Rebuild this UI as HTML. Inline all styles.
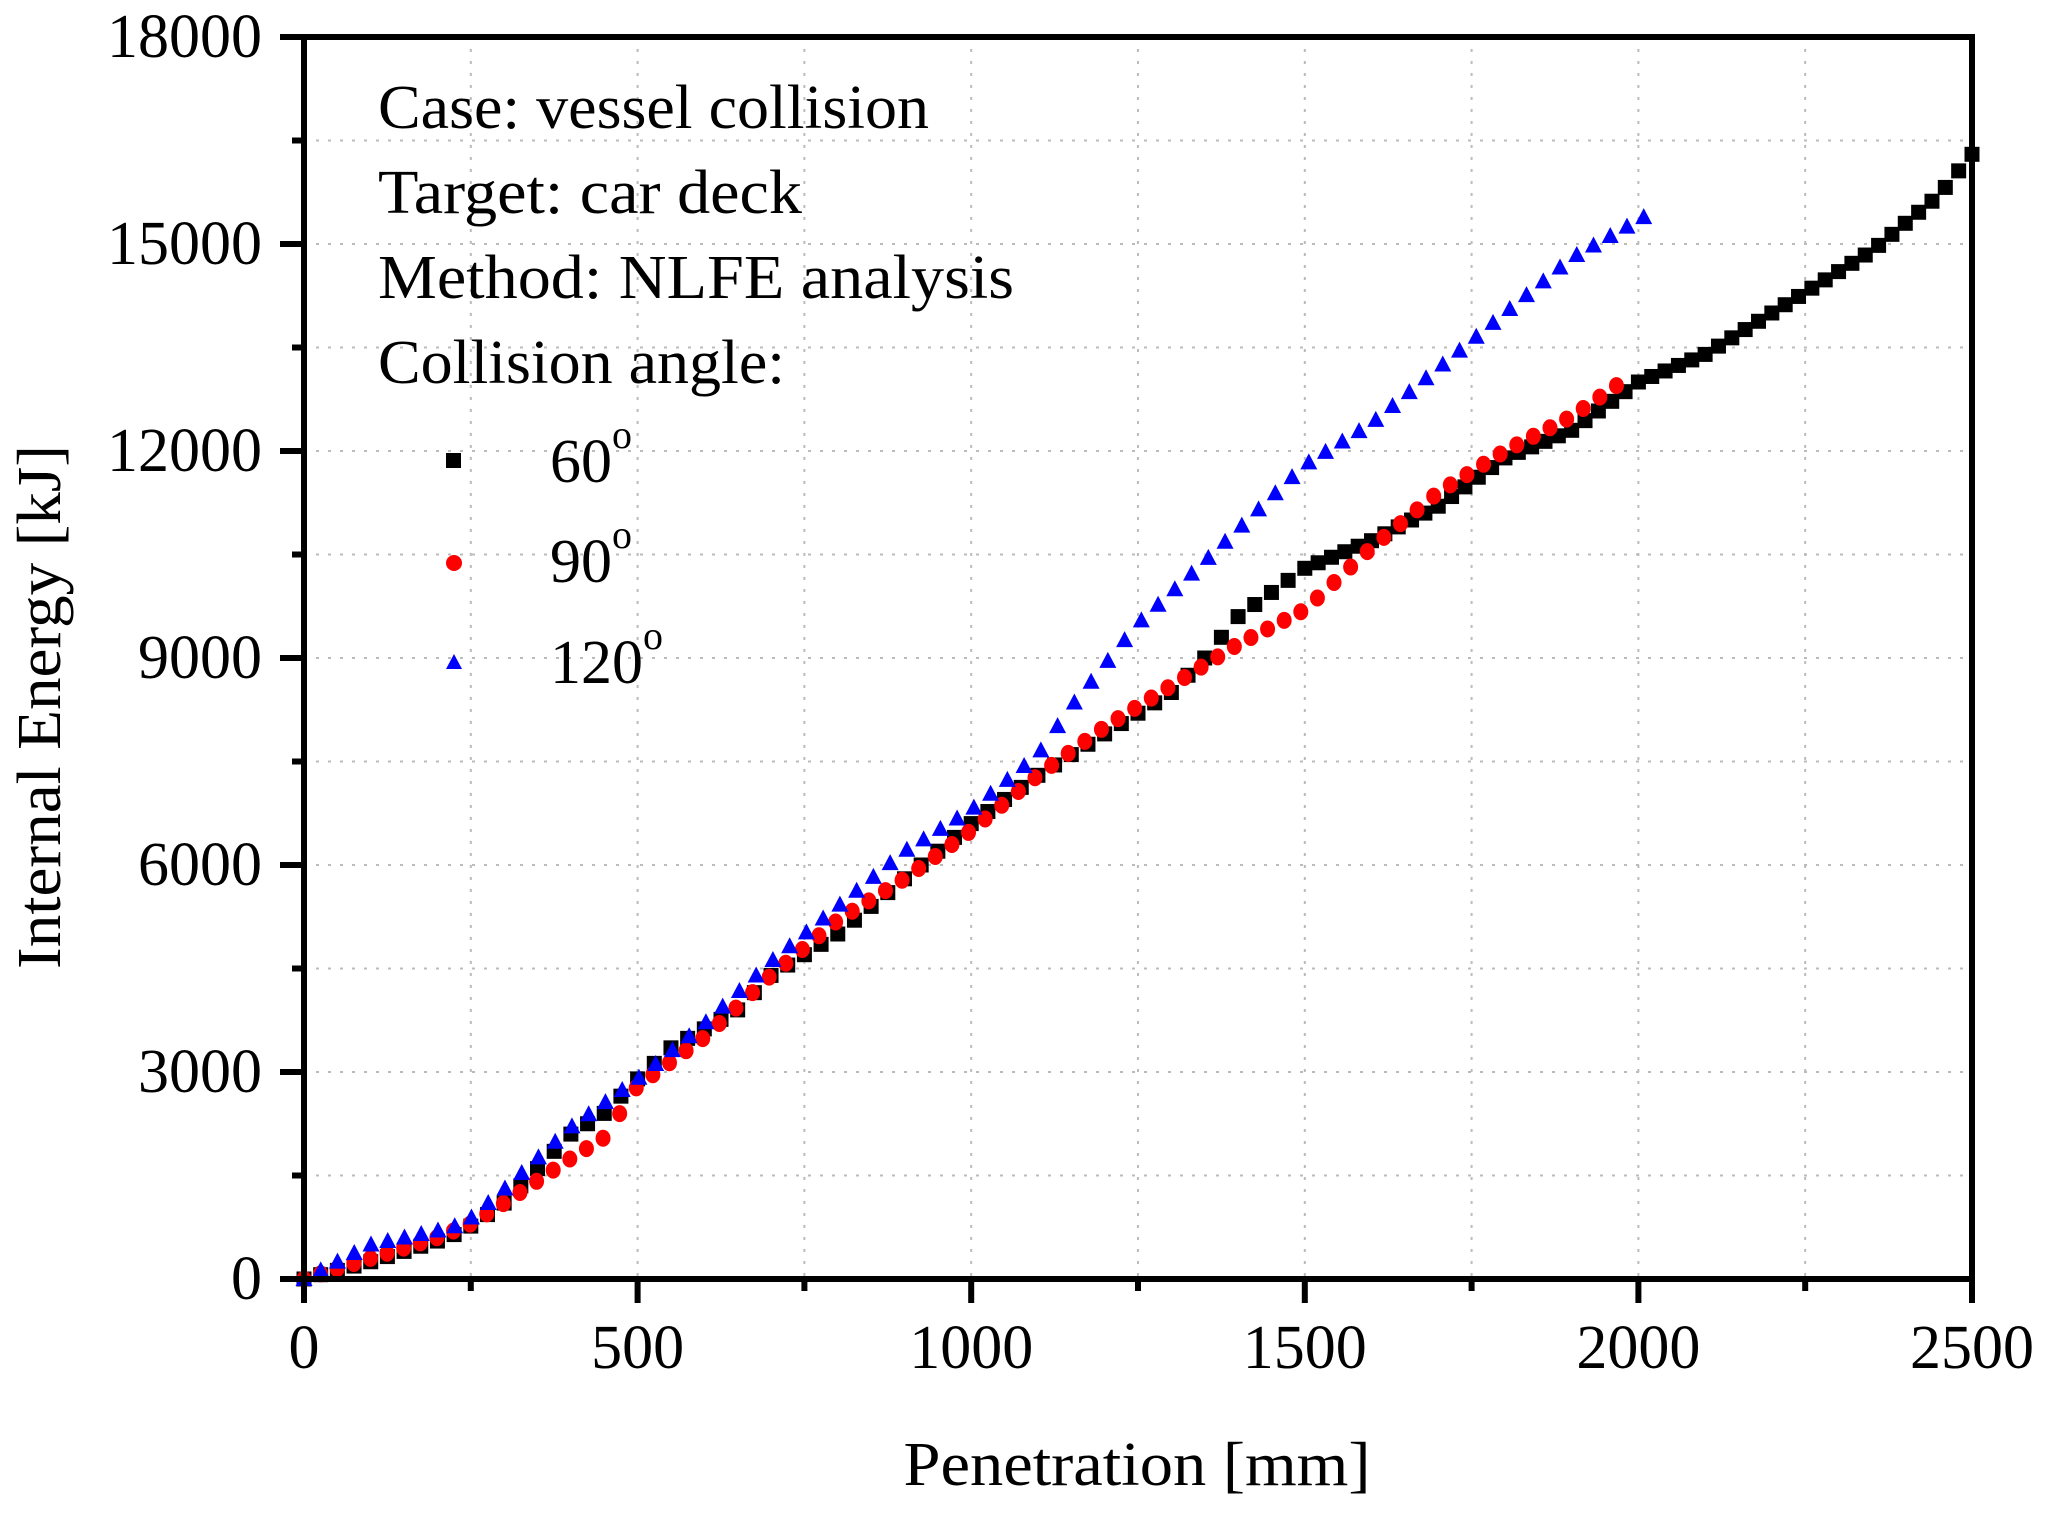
<!DOCTYPE html>
<html><head><meta charset="utf-8"><style>
html,body{margin:0;padding:0;background:#fff}
svg{display:block;font-family:"Liberation Serif",serif}
</style></head><body>
<svg id="s" width="2052" height="1522" viewBox="0 0 2052 1522" xmlns="http://www.w3.org/2000/svg">
<g id="grid" stroke="#bbb" stroke-width="2" stroke-dasharray="3,9"></g>
<g id="data"></g>
<g id="axes" stroke="#000" fill="none"></g>
<g id="labels" font-size="62" fill="#000"></g>
<g font-size="62" fill="#000">
<text x="378" y="128" textLength="551" lengthAdjust="spacingAndGlyphs">Case: vessel collision</text>
<text x="378" y="213" textLength="424" lengthAdjust="spacingAndGlyphs">Target: car deck</text>
<text x="378" y="298" textLength="636" lengthAdjust="spacingAndGlyphs">Method: NLFE analysis</text>
<text x="378" y="383" textLength="407" lengthAdjust="spacingAndGlyphs">Collision angle:</text>
<rect x="446" y="453" width="15" height="15" fill="#000"/>
<text x="550" y="482">60<tspan font-size="40" dy="-34">o</tspan></text>
<circle cx="454" cy="563" r="8" fill="#f00"/>
<text x="550" y="582">90<tspan font-size="40" dy="-34">o</tspan></text>
<polygon points="454,654 446,669 462,669" fill="#00f"/>
<text x="550" y="683">120<tspan font-size="40" dy="-34">o</tspan></text>
</g>
<text x="1137" y="1485" font-size="62" text-anchor="middle" textLength="467" lengthAdjust="spacingAndGlyphs">Penetration [mm]</text>
<text transform="translate(60,707) rotate(-90)" font-size="62" text-anchor="middle" textLength="524" lengthAdjust="spacingAndGlyphs">Internal Energy [kJ]</text>
</svg>
<script>
const L=304,R=1972,T=37,B=1279;
const X=v=>L+(R-L)*v/2500, Y=v=>B-(B-T)*v/18000;
const NS="http://www.w3.org/2000/svg";
function el(p,t,a){const e=document.createElementNS(NS,t);for(const k in a)e.setAttribute(k,a[k]);p.appendChild(e);return e;}
const g=document.getElementById('grid'),ax=document.getElementById('axes'),lb=document.getElementById('labels');
for(let v=250;v<2500;v+=250)el(g,'line',{x1:X(v),x2:X(v),y1:T,y2:B});
for(let v=1500;v<18000;v+=1500)el(g,'line',{x1:L,x2:R,y1:Y(v),y2:Y(v)});
el(ax,'rect',{x:L,y:T,width:R-L,height:B-T,'stroke-width':6});
for(let v=0;v<=2500;v+=250){const maj=v%500==0;el(ax,'line',{x1:X(v),x2:X(v),y1:B,y2:B+(maj?24:12),'stroke-width':6});
 if(maj){const t=el(lb,'text',{x:X(v),y:1368,'text-anchor':'middle'});t.textContent=v;}}
for(let v=0;v<=18000;v+=1500){const maj=v%3000==0;el(ax,'line',{x1:L,x2:L-(maj?24:12),y1:Y(v),y2:Y(v),'stroke-width':6});
 if(maj){const t=el(lb,'text',{x:262,y:Y(v)+20,'text-anchor':'end'});t.textContent=v;}}
function interp(pts,x){for(let i=1;i<pts.length;i++){if(x<=pts[i][0]){const a=pts[i-1],b=pts[i];return a[1]+(b[1]-a[1])*(x-a[0])/(b[0]-a[0]);}}return pts[pts.length-1][1];}
const black=[[0,0],[100,250],[200,550],[240,700],[300,1100],[400,2100],[450,2400],[500,2900],[550,3350],[650,3900],[700,4400],[800,5000],[900,5800],[1000,6600],[1100,7300],[1200,7900],[1300,8500],[1350,9000],[1400,9600],[1500,10300],[1600,10700],[1700,11200],[1800,11900],[1900,12300],[2000,13000],[2100,13400],[2200,14000],[2300,14600],[2350,14900],[2400,15300],[2450,15700],[2500,16300]];
const red=[[0,0],[100,300],[200,600],[250,800],[300,1100],[400,1750],[450,2050],[500,2800],[600,3500],[700,4400],[800,5200],[900,5800],[1000,6500],[1100,7300],[1200,8000],[1300,8600],[1400,9200],[1500,9700],[1600,10600],[1700,11400],[1800,12000],[1900,12500],[1990,13100]];
const blue=[[0,0],[100,500],[200,700],[240,800],[300,1300],[400,2200],[500,2900],[600,3700],[700,4600],[800,5400],[900,6200],[1000,6800],[1100,7600],[1150,8300],[1250,9500],[1350,10400],[1500,11800],[1600,12400],[1700,13200],[1800,14000],[1900,14800],[2010,15400]];
const d=document.getElementById('data');
for(let x=0;x<=2500;x+=(x<1500?25:20)){const px=X(x),py=Y(interp(black,x));el(d,'rect',{x:px-7.5,y:py-7.5,width:15,height:15,fill:'#000'});}
for(let x=0;x<=1990;x+=24.9){const px=X(x),py=Y(interp(red,x));el(d,'ellipse',{cx:px,cy:py,rx:7.5,ry:8.5,fill:'#f00'});}
for(let x=0;x<=2010;x+=25.1){const px=X(x),py=Y(interp(blue,x));el(d,'polygon',{points:`${px},${py-9} ${px-8.5},${py+7} ${px+8.5},${py+7}`,fill:'#00f'});}
</script>
</body></html>
